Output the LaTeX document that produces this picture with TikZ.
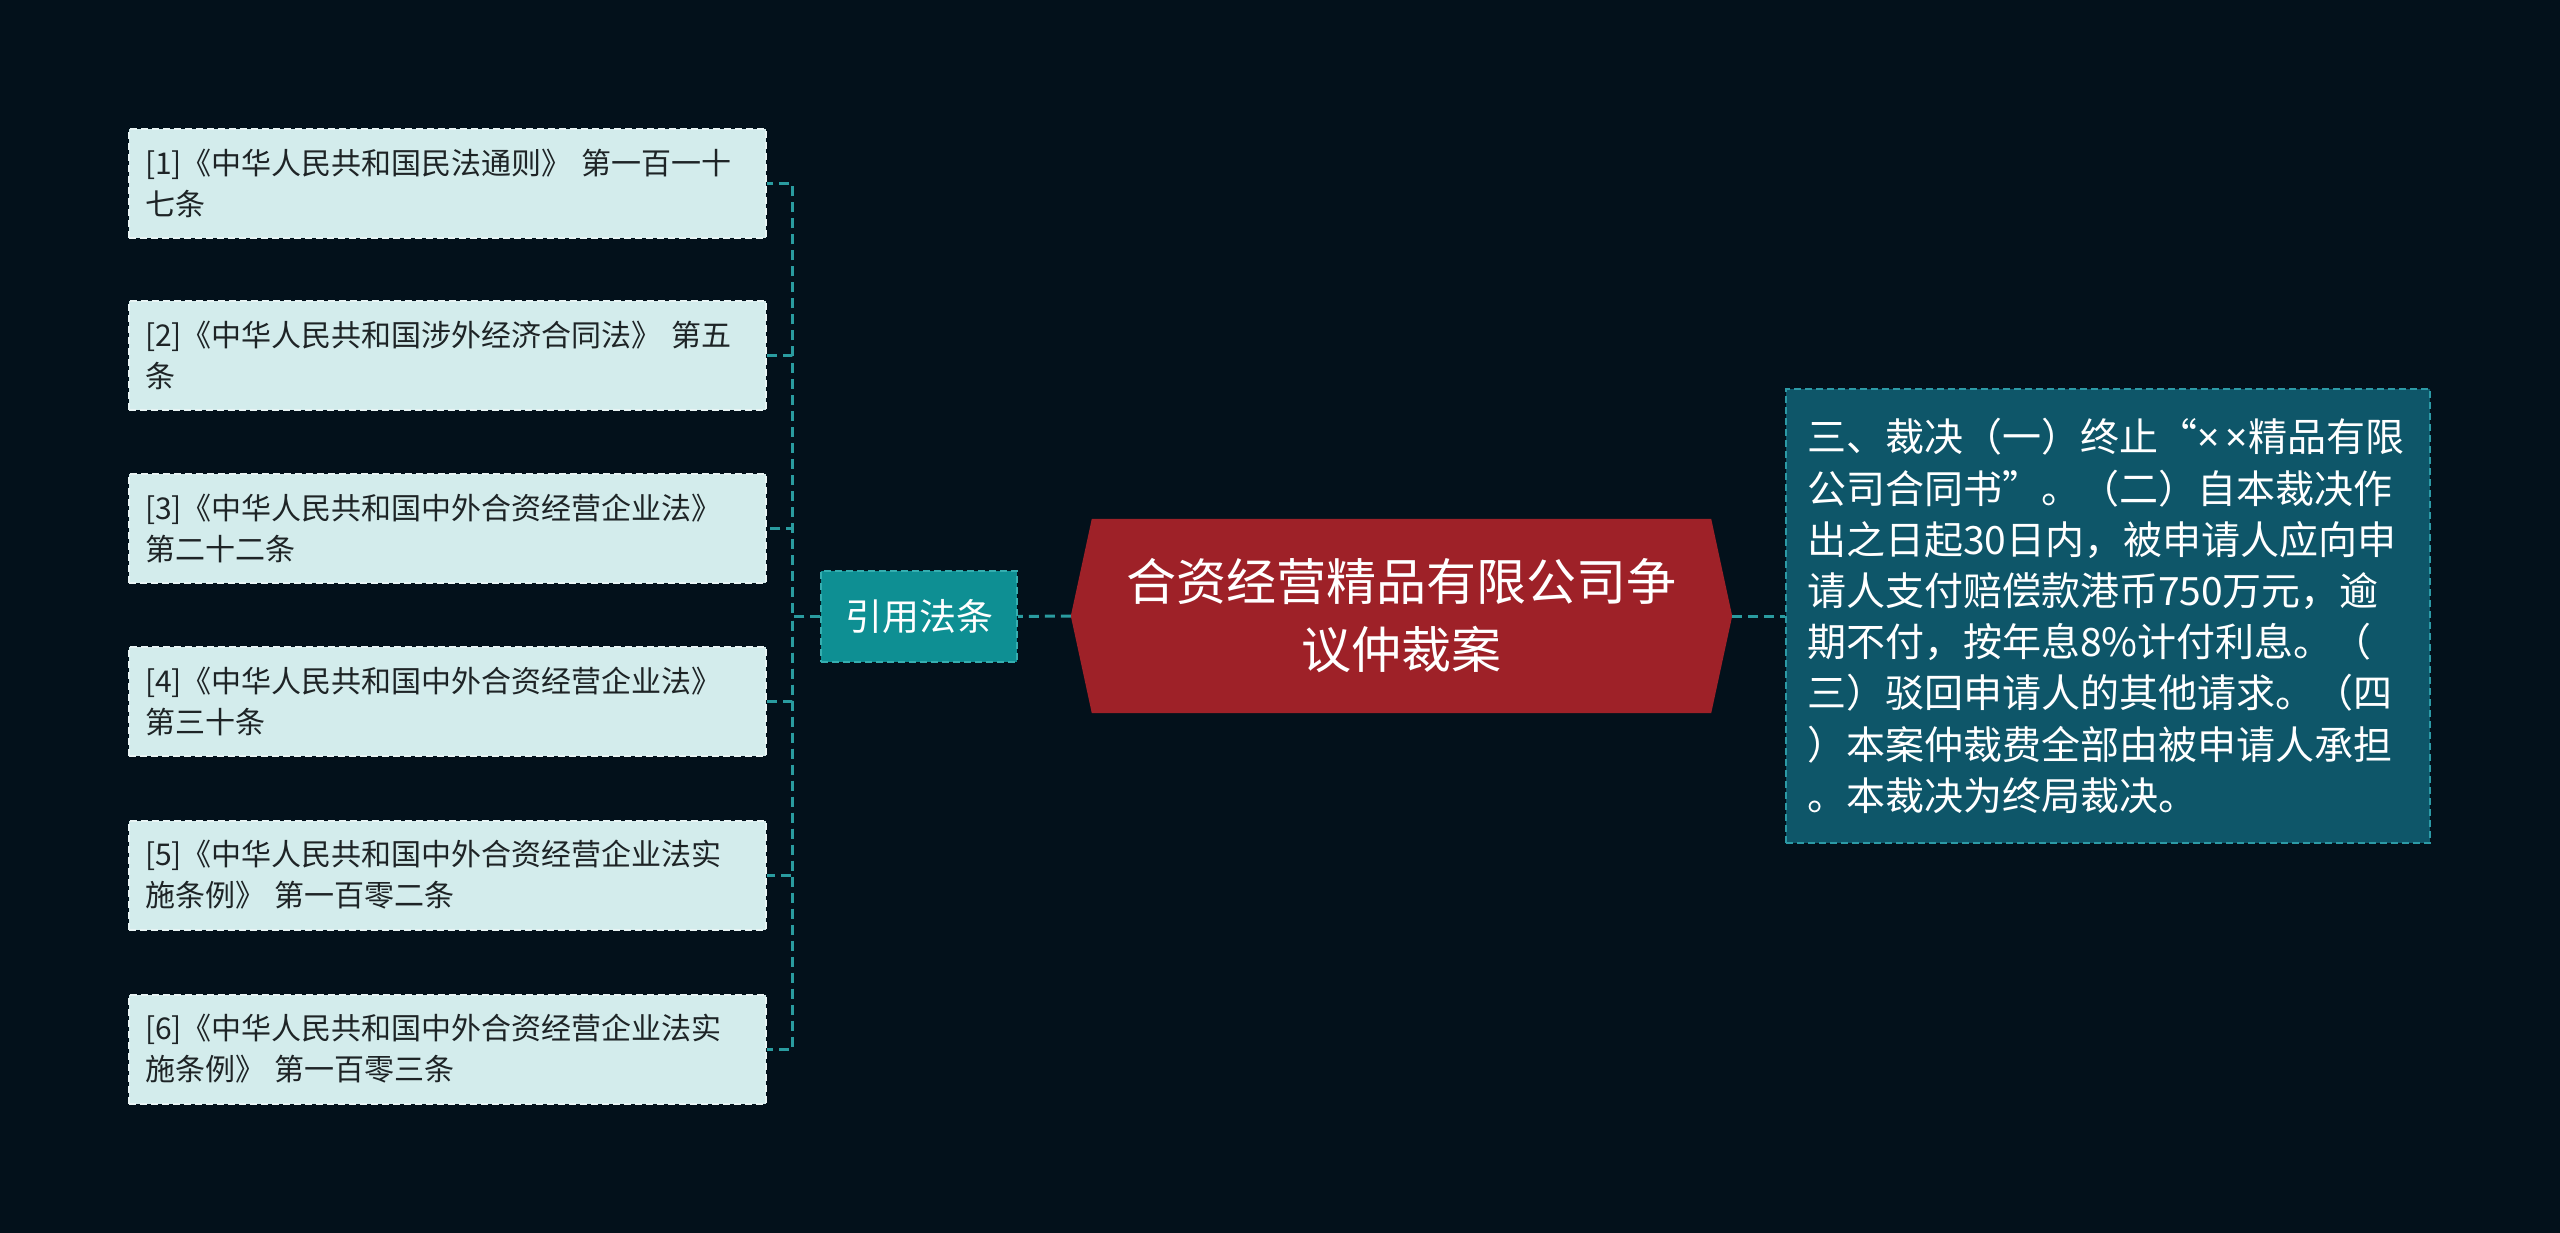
\documentclass[tikz,border=0pt]{standalone}
\usepackage{fontspec}
\setmainfont{Noto Sans CJK SC}
\newfontfamily\latinfont{Noto Sans}
\usetikzlibrary{backgrounds,calc}

\definecolor{bgdark}{HTML}{03111B}
\definecolor{leaffill}{HTML}{D3ECEC}
\definecolor{leafline}{HTML}{E8F4F4}
\definecolor{leaftext}{HTML}{1E2426}
\definecolor{citefill}{HTML}{0E8F93}
\definecolor{citeline}{HTML}{35AEB0}
\definecolor{rootfill}{HTML}{9E2128}
\definecolor{rulingfill}{HTML}{0E5669}
\definecolor{rulingline}{HTML}{2C9AA6}
\definecolor{linkcolor}{HTML}{2A9CA0}

\newcommand{\xx}{{\latinfont ×}}

\begin{document}
\begin{tikzpicture}[x=1pt, y=-1pt]
    % Define styles
    \tikzset{
        leafbox/.style={draw=leafline, dash pattern=on 7pt off 4pt, line width=2pt,
            fill=leaffill, text=leaftext, minimum width=637pt, minimum height=109pt,
            text width=605pt, inner xsep=16pt, align=left,
            font=\fontsize{30}{41}\selectfont},
        citebox/.style={draw=citeline, dash pattern=on 7pt off 4pt, line width=2pt,
            fill=citefill, text=white, minimum width=196pt, minimum height=91pt,
            font=\fontsize{37}{44}\selectfont},
        rootbox/.style={text=white, minimum width=661pt, minimum height=194pt,
            align=center, font=\fontsize{50}{68}\selectfont},
        rulingbox/.style={draw=rulingline, dash pattern=on 7pt off 4pt, line width=2pt,
            fill=rulingfill, text=white, minimum width=644pt, minimum height=454pt,
            text width=602pt, inner xsep=21pt, align=left,
            font=\fontsize{39}{51.2}\selectfont},
        link/.style={draw=linkcolor, line width=3pt, dash pattern=on 10pt off 6pt}
    }

    \useasboundingbox (0,0) rectangle (2560,1233);

    % Centre topic
    \node[rootbox] (root) at (1401.5,616) {合资经营精品有限公司争\\议仲裁案};

    % Main branches
    \node[citebox] (cite) at (919,616.5) {引用法条};
    \node[rulingbox] (ruling) at (2108,616) {三、裁决（一）终止“\xx\,\xx 精品有限\\公司合同书”。（二）自本裁决作\\出之日起30日内，被申请人应向申\\请人支付赔偿款港币750万元，逾\\期不付，按年息8\%计付利息。（\\三）驳回申请人的其他请求。（四\\）本案仲裁费全部由被申请人承担\\。本裁决为终局裁决。};

    % Cited articles
    \node[leafbox] (law1) at (447.5,183.5) {[1]《中华人民共和国民法通则》 第一百一十\\七条};
    \node[leafbox] (law2) at (447.5,355.5) {[2]《中华人民共和国涉外经济合同法》 第五\\条};
    \node[leafbox] (law3) at (447.5,528.5) {[3]《中华人民共和国中外合资经营企业法》\\第二十二条};
    \node[leafbox] (law4) at (447.5,701.5) {[4]《中华人民共和国中外合资经营企业法》\\第三十条};
    \node[leafbox] (law5) at (447.5,875) {[5]《中华人民共和国中外合资经营企业法实\\施条例》 第一百零二条};
    \node[leafbox] (law6) at (447.5,1049) {[6]《中华人民共和国中外合资经营企业法实\\施条例》 第一百零三条};

    % Background and centre shape
    \begin{pgfonlayer}{background}
        \fill[bgdark] (0,0) rectangle (2560,1233);
        \fill[rootfill] (root.west) -- ($(root.north west)+(21,0)$) -- ($(root.north east)+(-21,0)$)
            -- (root.east) -- ($(root.south east)+(-21,0)$) -- ($(root.south west)+(21,0)$) -- cycle;
    \end{pgfonlayer}

    % Connectors
    \coordinate (spine) at (792,616.5);
    \draw[link] (root.west) -- (cite.east);
    \draw[link] (root.east) -- (ruling.west);
    \draw[link] (cite.west) -- (spine) |- (law1.east);
    \draw[link] (cite.west) -- (spine) |- (law2.east);
    \draw[link] (cite.west) -- (spine) |- (law3.east);
    \draw[link] (cite.west) -- (spine) |- (law4.east);
    \draw[link] (cite.west) -- (spine) |- (law5.east);
    \draw[link] (cite.west) -- (spine) |- (law6.east);

\end{tikzpicture}
\end{document}
